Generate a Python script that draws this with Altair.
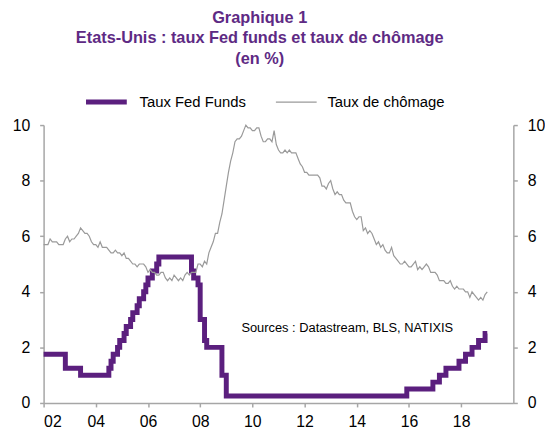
import altair as alt
import pandas as pd

PURPLE = "#5B1F7E"
TITLE_PURPLE = "#5E2A84"
GREY = "#9A9A9A"
AXIS_GREY = "#A6A6A6"

# Fed funds target rate (upper bound), month of change -> new level (%)
fed_months = ["2002-01", "2002-11", "2003-06", "2004-07", "2004-08", "2004-09", "2004-11",
              "2004-12", "2005-02", "2005-03", "2005-05", "2005-06", "2005-08", "2005-09",
              "2005-11", "2005-12", "2006-01", "2006-03", "2006-05", "2006-06", "2007-09",
              "2007-10", "2007-12", "2008-01", "2008-03", "2008-04", "2008-11", "2009-01",
              "2015-12", "2016-12", "2017-03", "2017-06", "2017-12", "2018-03", "2018-06",
              "2018-09", "2018-12", "2019-01"]
fed_values = [1.75, 1.25, 1.00, 1.25, 1.50, 1.75, 2.00,
              2.25, 2.50, 2.75, 3.00, 3.25, 3.50, 3.75,
              4.00, 4.25, 4.50, 4.75, 5.00, 5.25, 4.75,
              4.50, 4.25, 3.00, 2.25, 2.00, 1.00, 0.25,
              0.50, 0.75, 1.00, 1.25, 1.50, 1.75, 2.00,
              2.25, 2.50, 2.50]

# Unemployment rate, monthly from 2002-01 to 2019-01 (%)
unemp_start = "2002-01"
unemp_values = [
    5.7, 5.7, 5.7, 5.9, 5.8, 5.8, 5.8, 5.7, 5.7, 5.7, 5.9, 6.0,
    5.8, 5.9, 5.9, 6.0, 6.1, 6.3, 6.2, 6.1, 6.1, 6.0, 5.8, 5.7,
    5.7, 5.6, 5.8, 5.6, 5.6, 5.6, 5.5, 5.4, 5.4, 5.5, 5.4, 5.4,
    5.3, 5.4, 5.2, 5.2, 5.1, 5.0, 5.0, 4.9, 5.0, 5.0, 5.0, 4.9,
    4.7, 4.8, 4.7, 4.7, 4.6, 4.6, 4.7, 4.7, 4.5, 4.4, 4.5, 4.4,
    4.6, 4.5, 4.4, 4.5, 4.4, 4.6, 4.7, 4.6, 4.7, 4.7, 4.7, 5.0,
    5.0, 4.9, 5.1, 5.0, 5.4, 5.6, 5.8, 6.1, 6.1, 6.5, 6.8, 7.3,
    7.8, 8.3, 8.7, 9.0, 9.4, 9.5, 9.5, 9.6, 9.8, 10.0, 9.9, 9.9,
    9.8, 9.8, 9.9, 9.9, 9.6, 9.4, 9.4, 9.5, 9.5, 9.4, 9.8, 9.3,
    9.1, 9.0, 9.0, 9.1, 9.0, 9.1, 9.0, 9.0, 9.0, 8.8, 8.6, 8.5,
    8.3, 8.3, 8.2, 8.2, 8.2, 8.2, 8.2, 8.1, 7.8, 7.8, 7.7, 7.9,
    8.0, 7.7, 7.5, 7.6, 7.5, 7.5, 7.3, 7.2, 7.2, 7.2, 6.9, 6.7,
    6.6, 6.7, 6.7, 6.2, 6.3, 6.1, 6.2, 6.1, 5.9, 5.7, 5.8, 5.6,
    5.7, 5.5, 5.4, 5.4, 5.6, 5.3, 5.2, 5.1, 5.0, 5.0, 5.1, 5.0,
    4.9, 4.9, 5.0, 5.1, 4.8, 4.9, 4.8, 4.9, 5.0, 4.9, 4.7, 4.7,
    4.7, 4.6, 4.4, 4.4, 4.4, 4.3, 4.3, 4.4, 4.2, 4.1, 4.2, 4.1,
    4.1, 4.1, 4.0, 4.0, 3.8, 4.0, 3.9, 3.8, 3.7, 3.8, 3.7, 3.9,
    4.0,
]

x_ticks = [2002, 2004, 2006, 2008, 2010, 2012, 2014, 2016, 2018]
y_ticks = [0, 2, 4, 6, 8, 10]
series_names = ["Taux Fed Funds", "Taux de chômage"]
title_lines = ["Graphique 1", "Etats-Unis : taux Fed funds et taux de chômage", "(en %)"]
source_note = "Sources  : Datastream,  BLS, NATIXIS"


def dec_year(s):
    y, m = s.split("-")
    return int(y) + (int(m) - 1) / 12


fed_df = pd.DataFrame({"t": [dec_year(s) for s in fed_months], "v": fed_values,
                       "serie": series_names[0]})
months = pd.period_range(unemp_start, periods=len(unemp_values), freq="M")
unemp_df = pd.DataFrame({"t": [p.year + (p.month - 1) / 12 for p in months],
                         "v": unemp_values, "serie": series_names[1]})

legend_props = dict(title=None, orient="none", legendX=40, legendY=-47,
                    direction="horizontal", symbolType="stroke",
                    symbolSize=1700, labelFontSize=15,
                    labelFont="Liberation Sans", labelColor="#000000",
                    columnPadding=27, labelOffset=10)

x_enc = alt.X("t:Q", scale=alt.Scale(domain=[2002, 2020], nice=False, zero=False),
              axis=alt.Axis(values=x_ticks, labelExpr="substring(toString(datum.value), 2)",
                            title=None, grid=False, labelPadding=7))
color_enc = alt.Color("serie:N", scale=alt.Scale(domain=series_names, range=[PURPLE, GREY]),
                      legend=alt.Legend(**legend_props))
sw_enc = alt.StrokeWidth("serie:N", scale=alt.Scale(domain=series_names, range=[5, 1.2]),
                         legend=alt.Legend(**legend_props))

fed = alt.Chart(fed_df).mark_line(interpolate="step-after", strokeJoin="miter").encode(
    x=x_enc,
    y=alt.Y("v:Q", scale=alt.Scale(domain=[0, 10]),
            axis=alt.Axis(values=y_ticks, title=None, grid=False, orient="left",
                          labelPadding=10)),
    color=color_enc,
    strokeWidth=sw_enc,
)

unemp = alt.Chart(unemp_df).mark_line().encode(
    x=x_enc,
    y=alt.Y("v:Q", scale=alt.Scale(domain=[0, 10]),
            axis=alt.Axis(values=y_ticks, title=None, grid=False, orient="right",
                          labelPadding=10)),
    color=color_enc,
    strokeWidth=sw_enc,
)

note = alt.Chart(pd.DataFrame({"txt": [source_note]})).mark_text(
    align="left", baseline="middle", fontSize=13, font="Liberation Sans", color="#000000"
).encode(text="txt:N", x=alt.value(200), y=alt.value(205))

chart = alt.layer(fed, unemp, note).resolve_scale(y="independent").properties(
    width=475,
    height=281,
    background="white",
    autosize=alt.AutoSizeParams(type="none"),
    padding={"left": 36, "top": 116, "right": 32, "bottom": 28},
    title=alt.TitleParams(text=title_lines, fontSize=16.5, font="Liberation Sans",
                          fontWeight="bold", color=TITLE_PURPLE, anchor="middle",
                          frame="group", dx=-19, offset=11, lineHeight=21),
).configure_axis(
    domainColor=AXIS_GREY, tickColor=AXIS_GREY, domainWidth=1.5, tickWidth=1.5,
    tickSize=4, labelFont="Liberation Sans", labelFontSize=16, labelColor="#000000",
).configure_view(stroke=None)

chart.save("out.html", embed_options={"renderer": "svg", "actions": False})
